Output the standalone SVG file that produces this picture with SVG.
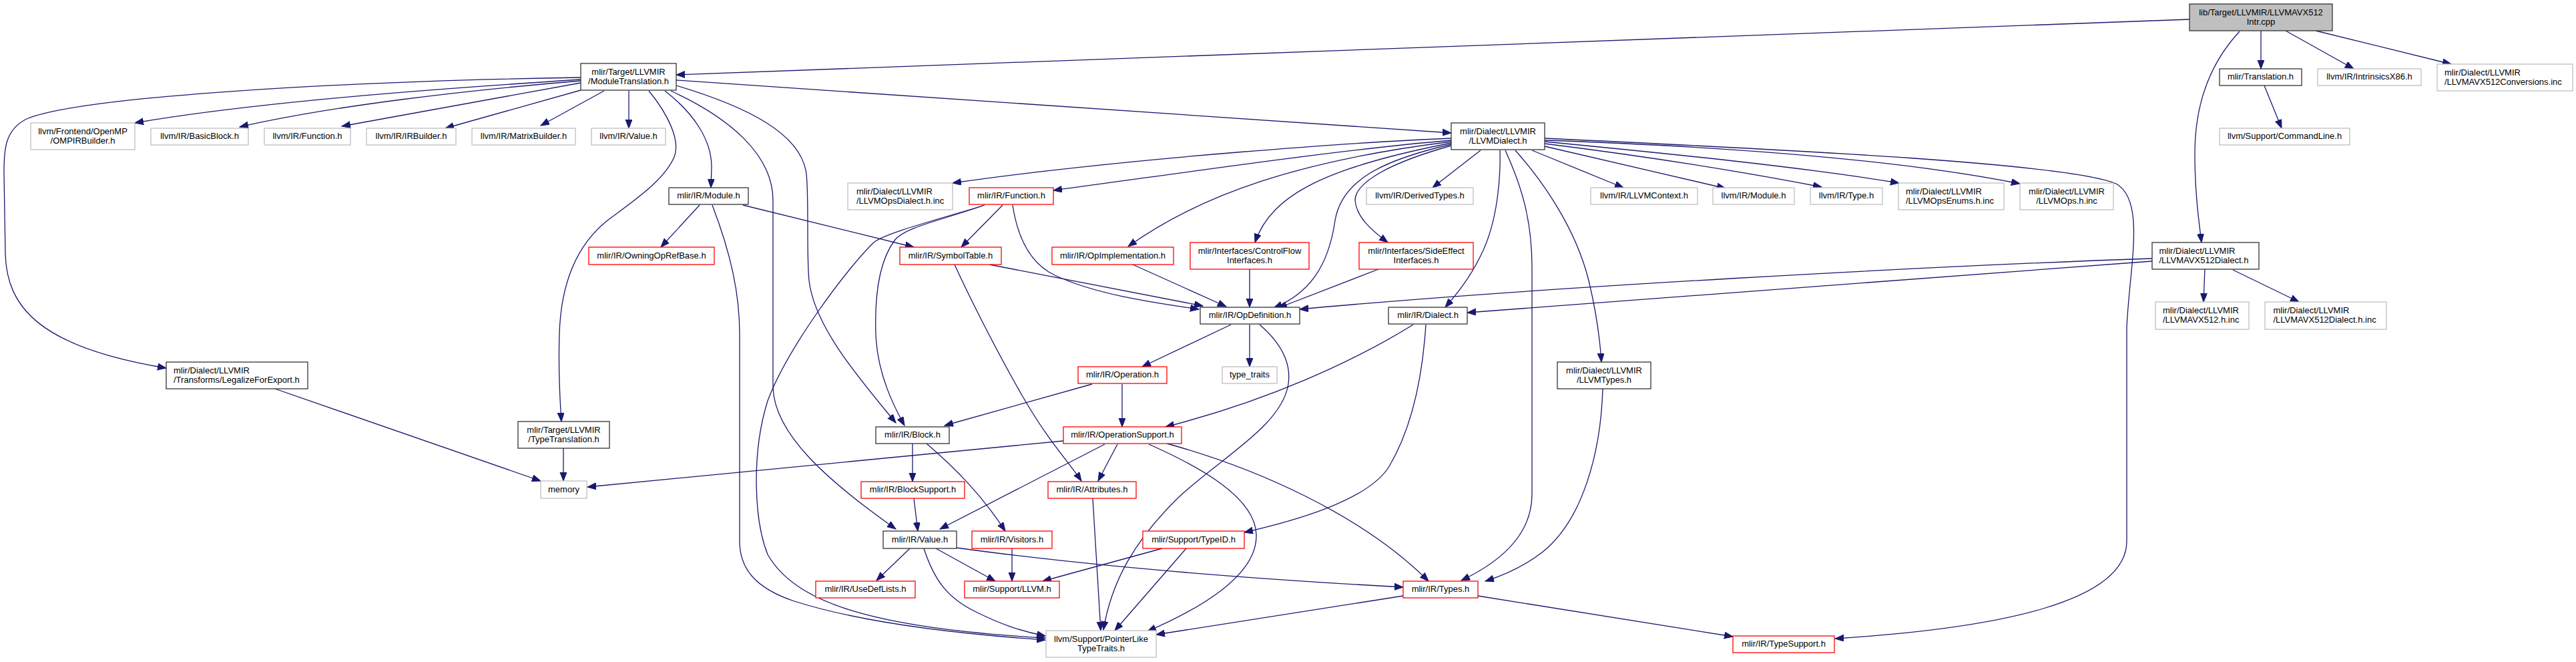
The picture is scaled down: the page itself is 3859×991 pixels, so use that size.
<svg xmlns="http://www.w3.org/2000/svg" width="3859" height="991" viewBox="0 0 3859 991">
<style>
rect{fill:#ffffff;stroke-width:1.3}
.b rect{stroke:#333333}
.g rect{stroke:#bfbfbf}
.r rect{stroke:#ff0000}
.t rect{fill:#bfbfbf;stroke:#333333}
text{font-family:"Liberation Sans",Arial,sans-serif;font-size:13px;fill:#000000}
.c{text-anchor:middle}
#edges path{fill:none;stroke:#191970;stroke-width:1.3;marker-end:url(#ah)}
</style>
<defs>
<marker id="ah" markerWidth="14" markerHeight="11" refX="13" refY="5" orient="auto" markerUnits="userSpaceOnUse"><path d="M0,0 L13,5 L0,10 z" fill="#191970" stroke="#191970" stroke-width="1"/></marker>
</defs>
<rect x="0" y="0" width="3859" height="991" style="fill:#ffffff;stroke:none"/>
<g id="edges">
<path d="M3280,29 L1013,112"/>
<path d="M3387,46 L3387,103"/>
<path d="M3424,46 L3526,103"/>
<path d="M3469,46 L3672,96"/>
<path d="M3355,47 C3315,90 3288,150 3288,230 C3288,290 3294,330 3298,363"/>
<path d="M3392,128 L3418,192"/>
<path d="M3303,403 L3301,452"/>
<path d="M3345,404 L3444,452"/>
<path d="M3224,387 C2900,398 2300,430 1947,463"/>
<path d="M3224,391 L2198,468"/>
<path d="M2174,207 C2050,212 1700,235 1427,274"/>
<path d="M2174,210 C2000,225 1800,255 1578,285"/>
<path d="M2174,212 C1950,240 1800,290 1690,369"/>
<path d="M2174,214 C1990,250 1905,290 1880,363"/>
<path d="M2174,216 C2070,240 2010,270 2000,330 C1990,400 1960,440 1908,461"/>
<path d="M2174,218 C2060,250 2030,280 2030,300 C2032,325 2055,345 2079,363"/>
<path d="M2218,225 L2146,281"/>
<path d="M2247,225 C2248,260 2245,330 2218,383 C2200,420 2178,445 2165,460"/>
<path d="M2255,225 C2280,280 2295,330 2295,400 L2295,740 C2295,800 2250,840 2189,869"/>
<path d="M2270,225 C2310,270 2360,340 2380,420 C2392,470 2397,510 2399,542"/>
<path d="M2295,225 L2432,281"/>
<path d="M2314,219 L2585,282"/>
<path d="M2314,215 C2450,232 2600,255 2729,280"/>
<path d="M2314,212 C2500,230 2700,250 2845,274"/>
<path d="M2314,210 C2600,220 2850,240 3026,275"/>
<path d="M2314,207 C2700,225 3100,245 3170,275 C3215,300 3190,400 3186,490 L3186,810 C3186,900 3000,940 2749,956"/>
<path d="M1013,120 L2174,199"/>
<path d="M870,116 C500,122 120,145 40,178 C5,195 6,230 6,260 L8,380 C10,460 60,520 249,551"/>
<path d="M870,119 C700,130 400,150 202,184"/>
<path d="M870,121 C700,135 500,158 359,190"/>
<path d="M870,124 L512,189"/>
<path d="M870,135 L667,192"/>
<path d="M905,136 L810,188"/>
<path d="M942,136 L942,192"/>
<path d="M972,136 C1000,170 1020,210 1010,235 C995,270 950,300 910,330 C860,370 840,430 838,500 C836,560 839,600 841,631"/>
<path d="M996,136 C1040,170 1066,210 1066,250 L1065,281"/>
<path d="M1005,136 C1090,175 1158,230 1158,300 L1158,580 C1160,650 1240,720 1342,792"/>
<path d="M1013,128 C1120,160 1200,200 1208,260 C1212,300 1208,380 1212,420 C1220,490 1290,570 1342,633"/>
<path d="M1048,307 L990,370"/>
<path d="M1067,307 C1095,380 1108,440 1108,500 L1108,810 C1108,850 1130,880 1190,900 C1300,935 1450,950 1566,958"/>
<path d="M1113,307 L1369,370"/>
<path d="M1502,307 L1440,370"/>
<path d="M1517,307 C1525,360 1545,395 1580,412 C1640,440 1720,452 1796,463"/>
<path d="M1475,307 C1410,330 1355,340 1340,360 C1318,390 1310,440 1312,500 C1314,560 1340,610 1355,637"/>
<path d="M1472,308 C1400,330 1330,348 1310,362 C1270,400 1180,520 1150,600 C1125,680 1130,780 1150,830 C1190,900 1300,940 1566,955"/>
<path d="M1482,396 L1802,458"/>
<path d="M1430,396 C1450,440 1490,520 1530,590 C1570,660 1600,690 1620,720"/>
<path d="M1697,396 L1837,459"/>
<path d="M1872,403 L1872,460"/>
<path d="M2065,403 L1915,461"/>
<path d="M1844,486 L1711,549"/>
<path d="M1872,486 L1872,549"/>
<path d="M1887,486 C1915,510 1935,540 1930,575 C1920,640 1820,690 1760,750 C1700,810 1665,870 1653,943"/>
<path d="M2117,486 C2030,540 1900,600 1746,639"/>
<path d="M2136,486 C2130,580 2110,650 2080,700 C2050,745 1960,775 1864,797"/>
<path d="M1636,575 L1415,637"/>
<path d="M1681,575 L1681,639"/>
<path d="M1593,660 L880,729"/>
<path d="M1655,665 L1408,792"/>
<path d="M1674,665 L1645,720"/>
<path d="M1721,665 C1800,700 1880,745 1882,800 C1884,860 1800,910 1719,945"/>
<path d="M1748,664 C1880,700 2040,770 2140,870"/>
<path d="M1367,664 L1367,721"/>
<path d="M1388,664 C1430,700 1470,740 1506,795"/>
<path d="M1369,746 L1375,795"/>
<path d="M1637,746 L1649,944"/>
<path d="M1363,821 L1313,869"/>
<path d="M1402,821 L1491,870"/>
<path d="M1384,821 C1400,870 1420,895 1460,915 C1500,935 1530,945 1566,952"/>
<path d="M1433,820 C1650,850 1900,868 2102,879"/>
<path d="M1516,821 L1516,870"/>
<path d="M1741,821 L1562,870"/>
<path d="M1777,821 L1670,944"/>
<path d="M2102,892 L1732,950"/>
<path d="M2214,892 L2596,953"/>
<path d="M2401,582 C2398,680 2370,780 2310,827 C2280,850 2250,862 2225,870"/>
<path d="M844,671 L844,720"/>
<path d="M412,582 L810,720"/>
</g>
<g id="n_top" class="t"><rect x="3280" y="6" width="214" height="40"/><text class="c" x="3387" y="23">lib/Target/LLVMIR/LLVMAVX512</text><text class="c" x="3387" y="37">Intr.cpp</text></g>
<g id="n_modtrans" class="b"><rect x="870" y="95" width="143" height="40"/><text class="c" x="941.5" y="112">mlir/Target/LLVMIR</text><text class="c" x="941.5" y="126">/ModuleTranslation.h</text></g>
<g id="n_translation" class="b"><rect x="3325" y="103" width="123" height="25"/><text class="c" x="3386.5" y="119">mlir/Translation.h</text></g>
<g id="n_intrx86" class="g"><rect x="3472" y="103" width="155" height="25"/><text class="c" x="3549.5" y="119">llvm/IR/IntrinsicsX86.h</text></g>
<g id="n_avxconv" class="g"><rect x="3651" y="96" width="203" height="40"/><text x="3662" y="113">mlir/Dialect/LLVMIR</text><text x="3662" y="127">/LLVMAVX512Conversions.inc</text></g>
<g id="n_omp" class="g"><rect x="46" y="184" width="156" height="40"/><text class="c" x="124" y="201">llvm/Frontend/OpenMP</text><text class="c" x="124" y="215">/OMPIRBuilder.h</text></g>
<g id="n_basicblock" class="g"><rect x="226" y="192" width="146" height="25"/><text class="c" x="299" y="208">llvm/IR/BasicBlock.h</text></g>
<g id="n_llvmfunc" class="g"><rect x="396" y="192" width="129" height="25"/><text class="c" x="460.5" y="208">llvm/IR/Function.h</text></g>
<g id="n_irbuilder" class="g"><rect x="549" y="192" width="134" height="25"/><text class="c" x="616" y="208">llvm/IR/IRBuilder.h</text></g>
<g id="n_matrix" class="g"><rect x="707" y="192" width="155" height="25"/><text class="c" x="784.5" y="208">llvm/IR/MatrixBuilder.h</text></g>
<g id="n_llvmvalue" class="g"><rect x="886" y="192" width="111" height="25"/><text class="c" x="941.5" y="208">llvm/IR/Value.h</text></g>
<g id="n_llvmdialect" class="b"><rect x="2174" y="184" width="140" height="40"/><text class="c" x="2244" y="201">mlir/Dialect/LLVMIR</text><text class="c" x="2244" y="215">/LLVMDialect.h</text></g>
<g id="n_cmdline" class="g"><rect x="3325" y="192" width="195" height="25"/><text class="c" x="3422.5" y="208">llvm/Support/CommandLine.h</text></g>
<g id="n_opsdialectinc" class="g"><rect x="1270" y="274" width="157" height="40"/><text x="1283" y="291">mlir/Dialect/LLVMIR</text><text x="1283" y="305">/LLVMOpsDialect.h.inc</text></g>
<g id="n_module" class="b"><rect x="1002" y="281" width="119" height="25"/><text class="c" x="1061.5" y="297">mlir/IR/Module.h</text></g>
<g id="n_mfunction" class="r"><rect x="1452" y="281" width="126" height="25"/><text class="c" x="1515" y="297">mlir/IR/Function.h</text></g>
<g id="n_derived" class="g"><rect x="2047" y="281" width="160" height="25"/><text class="c" x="2127" y="297">llvm/IR/DerivedTypes.h</text></g>
<g id="n_llvmctx" class="g"><rect x="2383" y="281" width="160" height="25"/><text class="c" x="2463" y="297">llvm/IR/LLVMContext.h</text></g>
<g id="n_llvmmodule" class="g"><rect x="2566" y="281" width="122" height="25"/><text class="c" x="2627" y="297">llvm/IR/Module.h</text></g>
<g id="n_llvmtype" class="g"><rect x="2712" y="281" width="108" height="25"/><text class="c" x="2766" y="297">llvm/IR/Type.h</text></g>
<g id="n_opsenums" class="g"><rect x="2844" y="274" width="158" height="40"/><text x="2855" y="291">mlir/Dialect/LLVMIR</text><text x="2855" y="305">/LLVMOpsEnums.h.inc</text></g>
<g id="n_opsinc" class="g"><rect x="3026" y="274" width="140" height="40"/><text class="c" x="3096" y="291">mlir/Dialect/LLVMIR</text><text class="c" x="3096" y="305">/LLVMOps.h.inc</text></g>
<g id="n_owning" class="r"><rect x="882" y="370" width="188" height="26"/><text class="c" x="976" y="387">mlir/IR/OwningOpRefBase.h</text></g>
<g id="n_symtab" class="r"><rect x="1348" y="370" width="152" height="26"/><text class="c" x="1424" y="387">mlir/IR/SymbolTable.h</text></g>
<g id="n_opimpl" class="r"><rect x="1576" y="370" width="182" height="26"/><text class="c" x="1667" y="387">mlir/IR/OpImplementation.h</text></g>
<g id="n_cflow" class="r"><rect x="1783" y="363" width="178" height="40"/><text class="c" x="1872" y="380">mlir/Interfaces/ControlFlow</text><text class="c" x="1872" y="394">Interfaces.h</text></g>
<g id="n_sideeff" class="r"><rect x="2036" y="363" width="171" height="40"/><text class="c" x="2121.5" y="380">mlir/Interfaces/SideEffect</text><text class="c" x="2121.5" y="394">Interfaces.h</text></g>
<g id="n_avxdialect" class="b"><rect x="3224" y="363" width="160" height="40"/><text x="3234.5" y="380">mlir/Dialect/LLVMIR</text><text x="3234.5" y="394">/LLVMAVX512Dialect.h</text></g>
<g id="n_opdef" class="b"><rect x="1798" y="460" width="149" height="25"/><text class="c" x="1872.5" y="476">mlir/IR/OpDefinition.h</text></g>
<g id="n_dialect" class="b"><rect x="2080" y="460" width="118" height="25"/><text class="c" x="2139" y="476">mlir/IR/Dialect.h</text></g>
<g id="n_avxinc" class="g"><rect x="3229" y="452" width="140" height="41"/><text x="3240" y="469">mlir/Dialect/LLVMIR</text><text x="3240" y="483">/LLVMAVX512.h.inc</text></g>
<g id="n_avxdialectinc" class="g"><rect x="3393" y="452" width="182" height="41"/><text x="3405.5" y="469">mlir/Dialect/LLVMIR</text><text x="3405.5" y="483">/LLVMAVX512Dialect.h.inc</text></g>
<g id="n_legalize" class="b"><rect x="249" y="542" width="212" height="40"/><text x="260" y="559">mlir/Dialect/LLVMIR</text><text x="260" y="573">/Transforms/LegalizeForExport.h</text></g>
<g id="n_operation" class="r"><rect x="1615" y="549" width="133" height="25"/><text class="c" x="1681.5" y="565">mlir/IR/Operation.h</text></g>
<g id="n_typetraits" class="g"><rect x="1831" y="549" width="82" height="25"/><text class="c" x="1872" y="565">type_traits</text></g>
<g id="n_llvmtypes" class="b"><rect x="2333" y="542" width="140" height="40"/><text class="c" x="2403" y="559">mlir/Dialect/LLVMIR</text><text class="c" x="2403" y="573">/LLVMTypes.h</text></g>
<g id="n_typetrans" class="b"><rect x="776" y="631" width="137" height="40"/><text class="c" x="844.5" y="648">mlir/Target/LLVMIR</text><text class="c" x="844.5" y="662">/TypeTranslation.h</text></g>
<g id="n_block" class="b"><rect x="1312" y="639" width="110" height="25"/><text class="c" x="1367" y="655">mlir/IR/Block.h</text></g>
<g id="n_opsupport" class="r"><rect x="1593" y="639" width="177" height="25"/><text class="c" x="1681.5" y="655">mlir/IR/OperationSupport.h</text></g>
<g id="n_memory" class="g"><rect x="810" y="720" width="69" height="26"/><text class="c" x="844.5" y="737">memory</text></g>
<g id="n_blocksupport" class="r"><rect x="1290" y="721" width="155" height="25"/><text class="c" x="1367.5" y="737">mlir/IR/BlockSupport.h</text></g>
<g id="n_attributes" class="r"><rect x="1570" y="721" width="132" height="25"/><text class="c" x="1636" y="737">mlir/IR/Attributes.h</text></g>
<g id="n_value" class="b"><rect x="1323" y="795" width="110" height="26"/><text class="c" x="1378" y="812">mlir/IR/Value.h</text></g>
<g id="n_visitors" class="r"><rect x="1456" y="795" width="120" height="26"/><text class="c" x="1516" y="812">mlir/IR/Visitors.h</text></g>
<g id="n_typeid" class="r"><rect x="1712" y="795" width="152" height="26"/><text class="c" x="1788" y="812">mlir/Support/TypeID.h</text></g>
<g id="n_usedef" class="r"><rect x="1222" y="870" width="149" height="25"/><text class="c" x="1296.5" y="886">mlir/IR/UseDefLists.h</text></g>
<g id="n_llvmh" class="r"><rect x="1445" y="870" width="142" height="25"/><text class="c" x="1516" y="886">mlir/Support/LLVM.h</text></g>
<g id="n_types" class="r"><rect x="2102" y="870" width="112" height="25"/><text class="c" x="2158" y="886">mlir/IR/Types.h</text></g>
<g id="n_pointerlike" class="g"><rect x="1567" y="944" width="165" height="40"/><text class="c" x="1649.5" y="961">llvm/Support/PointerLike</text><text class="c" x="1649.5" y="975">TypeTraits.h</text></g>
<g id="n_typesupport" class="r"><rect x="2596" y="952" width="152" height="25"/><text class="c" x="2672" y="968">mlir/IR/TypeSupport.h</text></g>
</svg>
